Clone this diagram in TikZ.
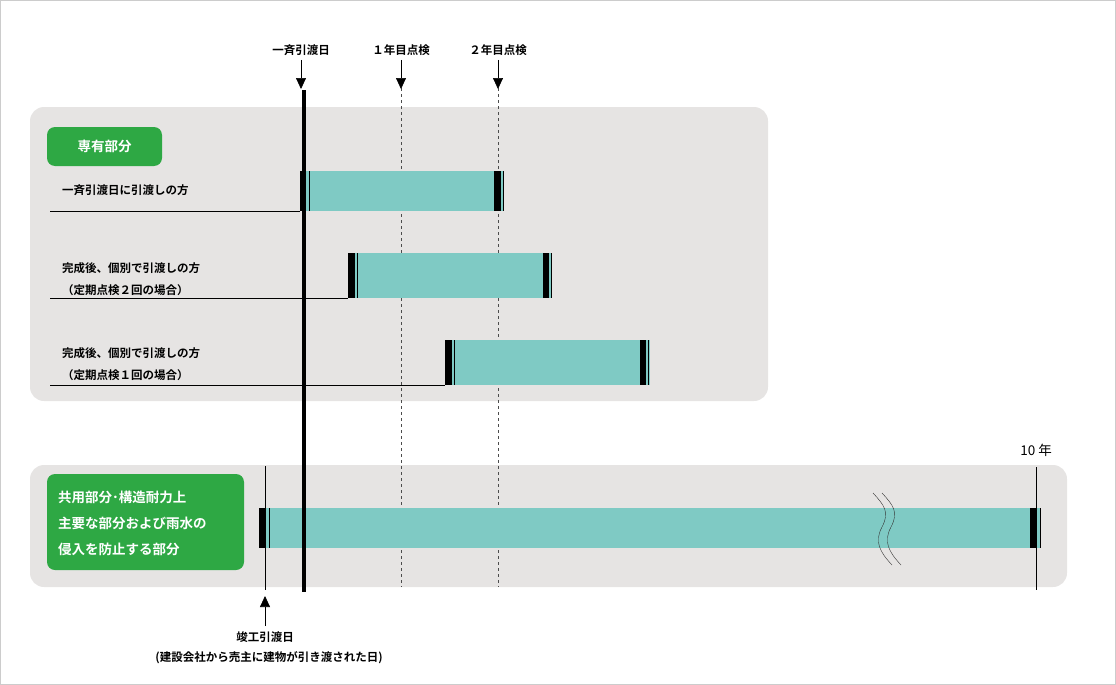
\documentclass[tikz,border=0pt]{standalone}
\usepackage{fontspec}
\newfontfamily\cjk{Noto Sans CJK JP}[BoldFont={Noto Sans CJK JP Bold}]
\usetikzlibrary{arrows.meta}
\definecolor{panel}{HTML}{E6E4E3}
\definecolor{grn}{HTML}{2EA844}
\definecolor{teal}{HTML}{7FCAC4}
\tikzset{
 lbl/.style={font=\cjk\bfseries\fontsize{11.5}{13}\selectfont, inner sep=0pt},
 tagtxt/.style={lbl, white, font=\cjk\bfseries\fontsize{13.5}{15}\selectfont},
 panelbox/.style={fill=panel, rounded corners=14pt},
 tag/.style={fill=grn, rounded corners=8pt},
 bar/.style={fill=teal},
 blk/.style={fill=black},
 arr/.style={-{Triangle[length=11pt,width=10pt]}, line width=0.7pt}
}
\begin{document}
\begin{tikzpicture}[x=1pt,y=-1pt]
\useasboundingbox (0,0) rectangle (1116,685);
\draw[gray!40] (0.5,0.5) rectangle (1115.5,684.5);
\fill[panelbox] (30,107) rectangle (768,401);
\fill[panelbox] (30,465) rectangle (1067,587);
% dashed
\draw[dashed, gray!60!black, line width=0.5pt] (401,88) -- (401,587);
\draw[dashed, gray!60!black, line width=0.5pt] (498,88) -- (498,587);
% top labels
\node[lbl] (t0) at (301,50) {一斉引渡日};
\node[lbl] (t1) at (401,50) {１年目点検};
\node[lbl] (t2) at (498,50) {２年目点検};
\coordinate (a0) at (301,89); \coordinate (a1) at (401,89); \coordinate (a2) at (498,89);
\draw[arr] (301,60) -- (a0);
\draw[arr] (401,60) -- (a1);
\draw[arr] (498,60) -- (a2);
% tag 1
\fill[tag] (47,127) rectangle (162,166);
\node[tagtxt] (tg1) at (104.5,146.5) {専有部分};
% row 1
\node[lbl, anchor=west] (r1) at (62,190) {一斉引渡日に引渡しの方};
\fill[bar] (300,171) rectangle (504,211);
\fill[blk] (300,171) rectangle (306,211); \draw[line width=0.8pt] (309,171)--(309,211);
\fill[blk] (494,171) rectangle (501,211); \draw[line width=0.8pt] (503,171)--(503,211);
\draw[line width=0.8pt] (50,211)--(300,211);
% row 2
\node[lbl, anchor=west] (r2a) at (62,268) {完成後、個別で引渡しの方};
\node[lbl, anchor=west] (r2b) at (62,290) {（定期点検２回の場合）};
\fill[bar] (348,253) rectangle (552,298);
\fill[blk] (348,253) rectangle (355,298); \draw[line width=0.8pt] (357.5,253)--(357.5,298);
\fill[blk] (543,253) rectangle (549,298); \draw[line width=0.8pt] (551.5,253)--(551.5,298);
\draw[line width=0.8pt] (50,298)--(348,298);
% row 3
\node[lbl, anchor=west] (r3a) at (62,353) {完成後、個別で引渡しの方};
\node[lbl, anchor=west] (r3b) at (62,375) {（定期点検１回の場合）};
\fill[bar] (445,340) rectangle (650,385);
\fill[blk] (445,340) rectangle (452,385); \draw[line width=0.8pt] (454.5,340)--(454.5,385);
\fill[blk] (640,340) rectangle (646,385); \draw[line width=0.8pt] (648.5,340)--(648.5,385);
\draw[line width=0.8pt] (50,385)--(445,385);
% panel 2
\fill[tag] (47,474) rectangle (244,570);
\node[tagtxt, anchor=west] (g1) at (58,497) {共用部分･構造耐力上};
\node[tagtxt, anchor=west] (g2) at (58,523) {主要な部分および雨水の};
\node[tagtxt, anchor=west] (g3) at (58,549) {侵入を防止する部分};
\fill[bar] (259,508) rectangle (1041,548);
\fill[blk] (259,508) rectangle (266,548); \draw[line width=0.8pt] (269,508)--(269,548);
\fill[blk] (1030,508) rectangle (1037,548); \draw[line width=0.8pt] (1040,508)--(1040,548);
\draw[line width=0.8pt] (265,466)--(265,590);
\draw[line width=0.8pt] (1036,467)--(1036,590);
\node[font=\cjk\fontsize{13.5}{15}\selectfont, inner sep=0pt] (ten) at (1036,450) {10 年};
% break
\foreach \d in {0,9}{
 \draw[line width=0.4pt, black!80] (873+\d,493) .. controls (884+\d,505) and (890+\d,512) .. (882+\d,527)
   .. controls (874+\d,542) and (880+\d,552) .. (892+\d,565);
}
% thick line
\draw[line width=4pt] (304,90)--(304,592);
% bottom
\node[lbl] (b1) at (265,637) {竣工引渡日};
\node[lbl] (b2) at (269,658) {(建設会社から売主に建物が引き渡された日)};
\coordinate (bt) at (265,596);
\draw[arr] (265,626) -- (bt);
\end{tikzpicture}
\end{document}
